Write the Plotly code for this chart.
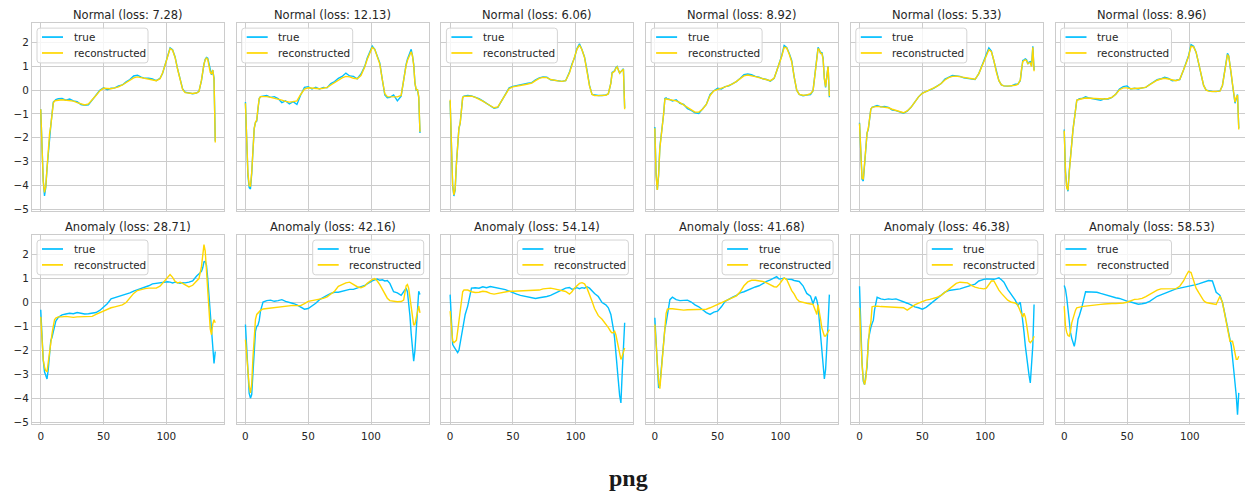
import plotly.graph_objects as go

# Sample positions (timestep index) shared by every heartbeat trace
X = [0, 1, 2, 3, 4, 5, 6, 7, 8, 9, 10, 11, 12,
     14, 17, 20, 23, 26, 29, 32, 35, 38, 41, 44, 47, 50, 53, 56, 59, 62, 65, 68, 71, 74, 77, 80, 83, 86, 89, 92, 95,
     97, 99, 101, 103, 105, 107, 109, 111, 113, 115,
     118, 121, 124, 126, 128, 129, 130, 131, 132, 133, 134, 135, 136, 137, 138, 139]

NORMAL_LOSS = [7.28, 12.13, 6.06, 8.92, 5.33, 8.96]
ANOMALY_LOSS = [28.71, 42.16, 54.14, 41.68, 46.38, 58.53]

X_TICKS = [0, 50, 100]
Y_TICKS = [2, 1, 0, -1, -2, -3, -4, -5]
SERIES_NAMES = ["true", "reconstructed"]

normal_1_true = [
    -0.80, -2.50, -3.80, -4.45, -4.10, -3.30, -2.60, -1.80, -1.50, -1.00, -0.50, -0.45, -0.40,
    -0.36, -0.35, -0.42, -0.37, -0.45, -0.48, -0.60, -0.63, -0.62, -0.40, -0.20, 0.00, 0.10, 0.02,
    0.08, 0.10, 0.18, 0.22, 0.35, 0.45, 0.60, 0.63, 0.55, 0.50, 0.50, 0.47, 0.40, 0.50,
    0.70, 1.05, 1.40, 1.78, 1.70, 1.40, 0.90, 0.45, 0.05, -0.08,
    -0.12, -0.15, -0.12, -0.05, 0.40, 0.90, 1.10, 1.30, 1.38, 1.35, 1.10, 0.75, 0.65, 0.85, 0.50, -2.15]
normal_1_recon = [
    -0.80, -2.60, -3.85, -4.30, -4.05, -3.30, -2.55, -1.85, -1.50, -1.00, -0.55, -0.45, -0.43,
    -0.42, -0.40, -0.42, -0.43, -0.46, -0.52, -0.58, -0.62, -0.58, -0.42, -0.22, -0.03, 0.08, 0.07,
    0.06, 0.10, 0.14, 0.22, 0.33, 0.43, 0.52, 0.56, 0.53, 0.49, 0.46, 0.43, 0.40, 0.48,
    0.72, 1.05, 1.42, 1.75, 1.68, 1.38, 0.88, 0.42, 0.03, -0.10,
    -0.13, -0.14, -0.12, -0.06, 0.42, 0.88, 1.10, 1.28, 1.35, 1.30, 1.08, 0.75, 0.68, 0.85, 0.45, -2.20]

normal_2_true = [
    -0.50, -2.30, -3.60, -4.10, -4.15, -3.50, -2.50, -1.60, -1.35, -1.30, -0.80, -0.35, -0.27,
    -0.25, -0.22, -0.30, -0.27, -0.35, -0.52, -0.45, -0.58, -0.48, -0.60, -0.20, 0.12, 0.15, 0.05,
    0.12, 0.05, 0.12, 0.10, 0.28, 0.36, 0.50, 0.58, 0.72, 0.60, 0.58, 0.48, 0.68, 1.00,
    1.35, 1.62, 1.85, 1.72, 1.45, 1.15, 0.45, -0.20, -0.32, -0.30,
    -0.20, -0.45, -0.25, 0.50, 1.10, 1.30, 1.45, 1.60, 1.72, 1.45, 1.10, 0.30, 0.00, 0.02, -0.30, -1.80]
normal_2_recon = [
    -0.55, -2.30, -3.50, -4.00, -4.05, -3.45, -2.45, -1.60, -1.35, -1.25, -0.75, -0.35, -0.27,
    -0.26, -0.27, -0.30, -0.33, -0.36, -0.42, -0.47, -0.50, -0.48, -0.45, -0.18, 0.05, 0.10, 0.08,
    0.07, 0.06, 0.08, 0.12, 0.22, 0.33, 0.42, 0.52, 0.58, 0.56, 0.50, 0.48, 0.62, 0.98,
    1.30, 1.58, 1.80, 1.72, 1.45, 1.10, 0.45, -0.15, -0.27, -0.28,
    -0.28, -0.28, -0.22, 0.45, 1.05, 1.25, 1.40, 1.52, 1.62, 1.45, 1.05, 0.30, 0.02, 0.02, -0.25, -1.75]

normal_3_true = [
    -0.45, -2.60, -4.00, -4.45, -4.20, -3.10, -2.20, -1.60, -1.40, -0.90, -0.30, -0.25, -0.24,
    -0.22, -0.24, -0.28, -0.35, -0.45, -0.55, -0.65, -0.76, -0.72, -0.45, -0.15, 0.10, 0.16, 0.20,
    0.24, 0.25, 0.30, 0.32, 0.44, 0.52, 0.56, 0.55, 0.44, 0.42, 0.40, 0.37, 0.40, 0.75,
    1.10, 1.35, 1.75, 1.95, 1.70, 1.40, 0.85, 0.20, -0.18, -0.20,
    -0.22, -0.22, -0.20, -0.15, 0.30, 0.75, 0.80, 0.82, 0.95, 1.00, 0.85, 0.72, 0.78, 0.85, 0.90, -0.75]
normal_3_recon = [
    -0.40, -2.60, -4.00, -4.40, -4.15, -3.10, -2.20, -1.60, -1.38, -0.90, -0.30, -0.26, -0.26,
    -0.26, -0.25, -0.30, -0.37, -0.46, -0.56, -0.66, -0.74, -0.70, -0.45, -0.15, 0.07, 0.14, 0.18,
    0.20, 0.23, 0.26, 0.30, 0.40, 0.50, 0.54, 0.53, 0.45, 0.41, 0.39, 0.37, 0.40, 0.72,
    1.06, 1.33, 1.72, 1.90, 1.70, 1.38, 0.82, 0.18, -0.18, -0.22,
    -0.23, -0.23, -0.21, -0.15, 0.30, 0.72, 0.78, 0.80, 0.92, 0.98, 0.85, 0.72, 0.78, 0.85, 0.88, -0.80]

normal_4_true = [
    -1.55, -3.50, -4.20, -3.60, -2.40, -2.00, -1.60, -1.00, -0.35, -0.32, -0.38, -0.37, -0.40,
    -0.45, -0.40, -0.55, -0.60, -0.78, -0.85, -0.95, -0.98, -0.80, -0.60, -0.18, -0.02, 0.08, 0.05,
    0.15, 0.18, 0.28, 0.36, 0.50, 0.65, 0.68, 0.65, 0.58, 0.55, 0.48, 0.45, 0.38, 0.50,
    0.80, 1.10, 1.45, 1.88, 1.80, 1.55, 1.25, 0.55, 0.00, -0.18,
    -0.23, -0.20, -0.18, -0.02, 0.90, 1.50, 1.80, 1.70, 1.55, 1.60, 1.35, 0.50, 0.12, 0.60, 1.00, -0.30]
normal_4_recon = [
    -1.60, -3.60, -4.20, -3.55, -2.45, -2.00, -1.60, -1.00, -0.38, -0.36, -0.38, -0.39, -0.40,
    -0.42, -0.45, -0.52, -0.62, -0.74, -0.85, -0.92, -0.92, -0.80, -0.60, -0.22, -0.03, 0.04, 0.09,
    0.14, 0.20, 0.27, 0.37, 0.48, 0.60, 0.64, 0.62, 0.57, 0.53, 0.48, 0.44, 0.40, 0.50,
    0.78, 1.10, 1.42, 1.80, 1.78, 1.52, 1.20, 0.55, 0.00, -0.18,
    -0.21, -0.20, -0.15, -0.02, 0.85, 1.45, 1.75, 1.70, 1.55, 1.55, 1.30, 0.50, 0.15, 0.60, 1.00, -0.25]

normal_5_true = [
    -1.37, -2.90, -3.75, -3.82, -3.10, -2.55, -1.80, -1.65, -1.30, -0.80, -0.72, -0.70, -0.68,
    -0.64, -0.70, -0.68, -0.72, -0.84, -0.86, -0.90, -0.97, -0.88, -0.72, -0.50, -0.28, -0.12, -0.06,
    0.00, 0.08, 0.18, 0.28, 0.47, 0.55, 0.62, 0.60, 0.58, 0.52, 0.50, 0.47, 0.45, 0.70,
    0.95, 1.20, 1.45, 1.78, 1.65, 1.25, 0.75, 0.40, 0.22, 0.18,
    0.17, 0.18, 0.25, 0.25, 0.40, 0.90, 1.25, 1.28, 1.32, 1.28, 1.10, 1.18, 1.20, 1.02, 1.85, 0.85]
normal_5_recon = [
    -1.40, -2.95, -3.70, -3.75, -3.10, -2.50, -1.80, -1.60, -1.25, -0.80, -0.72, -0.71, -0.70,
    -0.68, -0.70, -0.71, -0.74, -0.80, -0.86, -0.91, -0.95, -0.87, -0.72, -0.50, -0.28, -0.13, -0.06,
    0.00, 0.08, 0.17, 0.28, 0.43, 0.53, 0.58, 0.59, 0.56, 0.52, 0.49, 0.46, 0.46, 0.70,
    0.94, 1.18, 1.43, 1.70, 1.62, 1.25, 0.75, 0.40, 0.22, 0.18,
    0.17, 0.18, 0.21, 0.24, 0.42, 0.88, 1.20, 1.25, 1.28, 1.25, 1.12, 1.15, 1.15, 1.00, 1.80, 0.80]

normal_6_true = [
    -1.65, -3.40, -4.05, -4.25, -3.40, -2.70, -2.10, -1.65, -1.25, -0.80, -0.42, -0.40, -0.36,
    -0.35, -0.28, -0.33, -0.36, -0.38, -0.42, -0.36, -0.37, -0.30, -0.17, 0.05, 0.15, 0.18, 0.05,
    0.08, 0.05, 0.10, 0.12, 0.24, 0.35, 0.44, 0.48, 0.55, 0.50, 0.40, 0.42, 0.45, 0.85,
    1.15, 1.45, 1.92, 1.85, 1.60, 1.15, 0.60, 0.20, 0.00, -0.03,
    -0.05, -0.06, -0.03, 0.20, 0.90, 1.30, 1.55, 1.45, 1.10, 0.70, 0.25, -0.15, -0.55, -0.30, -0.18, -1.60]
normal_6_recon = [
    -1.70, -3.45, -4.10, -4.20, -3.45, -2.70, -2.10, -1.65, -1.25, -0.80, -0.42, -0.40, -0.38,
    -0.36, -0.33, -0.34, -0.35, -0.36, -0.38, -0.37, -0.35, -0.30, -0.17, 0.02, 0.10, 0.10, 0.06,
    0.06, 0.07, 0.09, 0.13, 0.22, 0.34, 0.42, 0.47, 0.50, 0.47, 0.42, 0.40, 0.45, 0.82,
    1.12, 1.42, 1.85, 1.82, 1.60, 1.15, 0.60, 0.20, 0.00, -0.04,
    -0.06, -0.06, -0.04, 0.20, 0.88, 1.28, 1.50, 1.42, 1.10, 0.70, 0.25, -0.15, -0.50, -0.30, -0.20, -1.65]

anomaly_1_true = [
    -0.30, -1.50, -2.40, -2.90, -3.10, -3.20, -2.80, -2.25, -1.60, -1.45, -1.25, -0.95, -0.78,
    -0.62, -0.52, -0.48, -0.45, -0.47, -0.42, -0.45, -0.48, -0.47, -0.45, -0.42, -0.33, -0.20, -0.05,
    0.15, 0.20, 0.25, 0.28, 0.33, 0.40, 0.48, 0.53, 0.60, 0.63, 0.70, 0.78, 0.80, 0.82,
    0.85, 0.85, 0.87, 0.85, 0.82, 0.85, 0.82, 0.80, 0.83, 0.82,
    0.85, 0.90, 1.10, 1.20, 1.30, 1.45, 1.70, 1.72, 1.55, 1.00, 0.25, -0.50, -1.25, -2.10, -2.55, -2.05]
anomaly_1_recon = [
    -0.60, -1.70, -2.40, -2.70, -2.85, -2.90, -2.50, -2.00, -1.55, -1.30, -1.00, -0.72, -0.65,
    -0.60, -0.60, -0.58, -0.60, -0.62, -0.60, -0.60, -0.60, -0.60, -0.58, -0.50, -0.43, -0.35, -0.28,
    -0.22, -0.18, -0.14, -0.10, 0.00, 0.20, 0.38, 0.50, 0.55, 0.58, 0.60, 0.60, 0.60, 0.68,
    0.80, 0.95, 1.08, 1.17, 1.05, 0.88, 0.82, 0.85, 0.80, 0.75,
    0.65, 0.72, 0.88, 1.00, 1.50, 2.00, 2.42, 2.15, 1.40, 0.45, -0.35, -1.10, -1.35, -0.90, -0.72, -0.85]

anomaly_2_true = [
    -0.92, -2.00, -2.95, -3.80, -4.00, -3.85, -2.95, -1.90, -1.20, -1.00, -0.95, -0.75, -0.36,
    0.02, 0.08, 0.10, 0.05, 0.08, 0.12, 0.05, 0.02, -0.04, -0.10, -0.20, -0.28, -0.25, -0.15,
    -0.03, 0.12, 0.22, 0.30, 0.38, 0.43, 0.43, 0.47, 0.50, 0.55, 0.55, 0.60, 0.65, 0.72,
    0.78, 0.85, 0.90, 0.95, 0.98, 0.93, 0.95, 0.90, 0.92, 0.80,
    0.45, 0.40, 0.30, 0.45, 0.60, 0.45, 0.05, -0.55, -1.30, -2.00, -2.45, -2.00, -1.00, -0.10, 0.47, 0.33]
anomaly_2_recon = [
    -1.55, -2.30, -3.00, -3.50, -3.78, -3.40, -2.30, -1.40, -0.70, -0.50, -0.43, -0.38, -0.33,
    -0.27, -0.25, -0.22, -0.20, -0.20, -0.18, -0.15, -0.13, -0.12, -0.13, -0.13, -0.05, 0.05, 0.08,
    0.10, 0.12, 0.17, 0.24, 0.35, 0.47, 0.68, 0.76, 0.82, 0.85, 0.75, 0.66, 0.62, 0.68,
    0.80, 0.89, 0.96, 1.00, 0.90, 0.75, 0.55, 0.35, 0.18, 0.08,
    0.05, 0.03, 0.04, 0.10, 0.70, 0.75, 0.60, 0.20, -0.20, -0.60, -0.95, -0.90, -0.65, -0.25, -0.15, -0.43]

anomaly_3_true = [
    0.33, -0.80, -1.75, -1.85, -1.94, -2.00, -2.10, -2.00, -1.70, -1.35, -1.10, -0.90, -0.50,
    -0.15, 0.60, 0.62, 0.60, 0.66, 0.62, 0.67, 0.64, 0.60, 0.56, 0.54, 0.48, 0.40, 0.35,
    0.30, 0.26, 0.23, 0.20, 0.17, 0.20, 0.22, 0.25, 0.30, 0.38, 0.45, 0.55, 0.60, 0.63,
    0.55, 0.58, 0.62, 0.58, 0.62, 0.60, 0.66, 0.60, 0.47, 0.38,
    0.25, 0.00, -0.10, -0.22, -0.50, -0.75, -1.10, -1.50, -2.00, -2.70, -3.30, -3.90, -4.20, -3.00, -2.00, -0.85]
anomaly_3_recon = [
    -0.36, -1.00, -1.60, -1.68, -1.62, -1.58, -1.20, -0.75, -0.30, 0.20, 0.45, 0.52, 0.52,
    0.52, 0.45, 0.42, 0.43, 0.47, 0.45, 0.38, 0.35, 0.38, 0.42, 0.45, 0.47, 0.47, 0.48,
    0.50, 0.50, 0.52, 0.50, 0.52, 0.52, 0.57, 0.60, 0.60, 0.57, 0.54, 0.50, 0.46, 0.35,
    0.45, 0.60, 0.70, 0.80, 0.83, 0.78, 0.60, 0.35, 0.05, -0.25,
    -0.55, -0.70, -0.90, -1.05, -1.22, -1.27, -1.25, -1.20, -1.35, -1.60, -2.00, -2.25, -2.38, -2.25, -2.05, -1.90]

anomaly_4_true = [
    -0.64, -1.80, -2.90, -3.57, -3.45, -2.90, -2.35, -1.60, -1.10, -0.85, -0.55, -0.25, 0.12,
    0.22, 0.12, 0.08, 0.08, 0.10, 0.02, -0.10, -0.18, -0.30, -0.42, -0.50, -0.40, -0.36, -0.18,
    0.05, 0.15, 0.22, 0.30, 0.40, 0.45, 0.52, 0.60, 0.65, 0.70, 0.80, 0.88, 0.95, 1.05,
    1.08, 0.98, 1.00, 1.02, 0.98, 0.98, 0.96, 0.92, 0.90, 0.88,
    0.70, 0.38, 0.26, -0.05, 0.25, 0.10, -0.15, -0.70, -1.27, -1.90, -2.55, -3.20, -2.80, -2.00, -0.85, 0.33]
anomaly_4_recon = [
    -0.92, -1.70, -2.52, -3.30, -3.60, -2.90, -2.20, -1.50, -0.90, -0.45, -0.28, -0.26, -0.26,
    -0.26, -0.28, -0.30, -0.32, -0.30, -0.29, -0.29, -0.29, -0.29, -0.28, -0.22, -0.15, -0.06, 0.01,
    0.08, 0.13, 0.20, 0.28, 0.45, 0.70, 0.86, 0.93, 0.93, 0.92, 0.88, 0.82, 0.73, 0.66,
    0.65, 0.75, 0.90, 1.03, 0.96, 0.70, 0.50, 0.35, 0.15, 0.05,
    0.00, -0.03, -0.06, -0.08, -0.35, -0.50, -0.10, -0.35, -0.70, -1.06, -1.25, -1.40, -1.40, -1.30, -1.20, -1.13]

anomaly_5_true = [
    0.68, -1.00, -2.50, -3.30, -3.43, -3.05, -2.70, -1.55, -1.25, -1.05, -0.88, -0.75, -0.30,
    0.22, 0.15, 0.12, 0.15, 0.13, 0.15, 0.10, 0.03, -0.03, -0.10, -0.18, -0.22, -0.28, -0.20,
    -0.07, 0.03, 0.18, 0.30, 0.43, 0.50, 0.52, 0.54, 0.57, 0.62, 0.67, 0.72, 0.77, 0.90,
    0.95, 0.97, 0.99, 0.98, 1.00, 0.97, 1.00, 1.03, 0.95, 0.85,
    0.55, 0.33, 0.10, -0.12, 0.01, -0.35, -0.75, -1.25, -1.80, -2.30, -2.75, -3.05, -3.36, -2.60, -1.80, -0.08]
anomaly_5_recon = [
    -0.22, -1.80, -2.60, -3.22, -3.43, -3.20, -2.45, -1.41, -1.05, -0.85, -0.18, -0.16, -0.15,
    -0.15, -0.17, -0.18, -0.18, -0.18, -0.18, -0.20, -0.22, -0.32, -0.20, -0.10, -0.03, 0.05, 0.10,
    0.13, 0.17, 0.22, 0.30, 0.42, 0.56, 0.67, 0.80, 0.85, 0.85, 0.82, 0.72, 0.64, 0.60,
    0.58, 0.57, 0.60, 0.78, 0.90, 0.90, 0.68, 0.52, 0.38, 0.25,
    0.10, 0.01, -0.02, -0.10, -0.35, -0.55, -0.62, -0.45, -0.60, -0.90, -1.30, -1.62, -1.68, -1.62, -1.55, -1.41]

anomaly_6_true = [
    0.71, 0.55, 0.20, -0.40, -0.95, -1.25, -1.50, -1.69, -1.83, -1.55, -1.05, -0.70, -0.55,
    -0.20, 0.45, 0.45, 0.43, 0.43, 0.38, 0.33, 0.28, 0.25, 0.20, 0.17, 0.10, 0.06, 0.02,
    -0.02, -0.07, -0.05, -0.02, 0.05, 0.15, 0.26, 0.32, 0.38, 0.47, 0.53, 0.57, 0.60, 0.63,
    0.65, 0.67, 0.68, 0.72, 0.75, 0.78, 0.82, 0.85, 0.88, 0.92,
    0.90, 0.43, 0.30, 0.00, -0.50, -0.75, -0.99, -1.20, -1.45, -1.80, -2.30, -2.80, -3.30, -3.90, -4.69, -3.78]
anomaly_6_recon = [
    -0.15, -1.00, -1.25, -1.38, -1.41, -1.20, -0.85, -0.65, -0.50, -0.32, -0.22, -0.20, -0.18,
    -0.17, -0.15, -0.14, -0.13, -0.10, -0.08, -0.06, -0.04, -0.04, -0.04, -0.04, -0.02, 0.01, 0.08,
    0.13, 0.14, 0.17, 0.25, 0.35, 0.45, 0.52, 0.57, 0.57, 0.57, 0.55, 0.58, 0.68, 0.90,
    1.12, 1.30, 1.25, 0.95, 0.60, 0.42, 0.25, 0.08, 0.00, -0.03,
    -0.05, -0.08, 0.26, 0.00, -0.55, -0.75, -1.06, -1.35, -1.62, -1.62, -1.62, -1.85, -2.20, -2.38, -2.38, -2.25]

TRUE_COLOR = "#00bfff"
RECON_COLOR = "#ffd700"
GRID_COLOR = "#cccccc"
TEXT_COLOR = "#262626"
FONT = "DejaVu Sans"
LINE_W = 1.4

# (title, true series, reconstructed series, legend corner)
panels = [
    (f"Normal (loss: {NORMAL_LOSS[0]:.2f})", normal_1_true, normal_1_recon, "left"),
    (f"Normal (loss: {NORMAL_LOSS[1]:.2f})", normal_2_true, normal_2_recon, "left"),
    (f"Normal (loss: {NORMAL_LOSS[2]:.2f})", normal_3_true, normal_3_recon, "left"),
    (f"Normal (loss: {NORMAL_LOSS[3]:.2f})", normal_4_true, normal_4_recon, "left"),
    (f"Normal (loss: {NORMAL_LOSS[4]:.2f})", normal_5_true, normal_5_recon, "left"),
    (f"Normal (loss: {NORMAL_LOSS[5]:.2f})", normal_6_true, normal_6_recon, "left"),
    (f"Anomaly (loss: {ANOMALY_LOSS[0]:.2f})", anomaly_1_true, anomaly_1_recon, "left"),
    (f"Anomaly (loss: {ANOMALY_LOSS[1]:.2f})", anomaly_2_true, anomaly_2_recon, "right"),
    (f"Anomaly (loss: {ANOMALY_LOSS[2]:.2f})", anomaly_3_true, anomaly_3_recon, "right"),
    (f"Anomaly (loss: {ANOMALY_LOSS[3]:.2f})", anomaly_4_true, anomaly_4_recon, "right"),
    (f"Anomaly (loss: {ANOMALY_LOSS[4]:.2f})", anomaly_5_true, anomaly_5_recon, "right"),
    (f"Anomaly (loss: {ANOMALY_LOSS[5]:.2f})", anomaly_6_true, anomaly_6_recon, "left"),
]
for name, t, rc, _ in panels:
    if len(t) != len(X) or len(rc) != len(X):
        raise ValueError(f"length mismatch in {name}: {len(t)}, {len(rc)}")

W, H = 1245, 497
COL_LEFT = [32.0, 236.7, 441.4, 646.1, 850.8, 1055.5]
PANEL_W = 192.0
ROW_TB = [(23.3, 212.5), (236.5, 426.8)]
X_RANGE = [-6.95, 145.95]
Y_RANGE = [-5.09, 2.82]
px_per_unit = PANEL_W / (X_RANGE[1] - X_RANGE[0])

# legend box geometry, in pixels
LEG_W, LEG_H, LEG_PAD, LEG_R = 111.0, 35.0, 5.0, 3.0
LEG_ROWS = [9.0, 25.0]
LEG_LINE = (5.0, 26.0)
LEG_TEXT_X = 34.5


def px(xp):
    return xp / W


def py(yp):
    return 1 - yp / H


def rounded_box(x0, y0, x1, y1, r):
    rx, ry = r / W, r / H
    a0, a1, b0, b1 = px(x0), px(x1), py(y0), py(y1)
    return (f"M{a0 + rx},{b0} L{a1 - rx},{b0} Q{a1},{b0} {a1},{b0 - ry} "
            f"L{a1},{b1 + ry} Q{a1},{b1} {a1 - rx},{b1} "
            f"L{a0 + rx},{b1} Q{a0},{b1} {a0},{b1 + ry} "
            f"L{a0},{b0 - ry} Q{a0},{b0} {a0 + rx},{b0} Z")


fig = go.Figure()
annotations = []
shapes = []
layout_axes = {}

for i, (title, y_true, y_recon, corner) in enumerate(panels):
    r, c = divmod(i, 6)
    k = i + 1
    sfx = "" if k == 1 else str(k)
    left = COL_LEFT[c]
    right = min(left + PANEL_W, W)
    top, bottom = ROW_TB[r]

    for series, name, color in ((y_true, SERIES_NAMES[0], TRUE_COLOR),
                                (y_recon, SERIES_NAMES[1], RECON_COLOR)):
        fig.add_trace(go.Scatter(
            x=X, y=series, name=name, mode="lines",
            line=dict(color=color, width=LINE_W),
            xaxis="x" + sfx, yaxis="y" + sfx, showlegend=False))

    x_hi = X_RANGE[0] + (right - left) / px_per_unit
    layout_axes["xaxis" + sfx] = dict(
        domain=[left / W, right / W], range=[X_RANGE[0], x_hi], anchor="y" + sfx,
        tickmode="array", tickvals=X_TICKS, showticklabels=(r == 1),
        ticklabelstandoff=2,
        showgrid=True, gridcolor=GRID_COLOR, gridwidth=1, zeroline=False,
        showline=True, linecolor=GRID_COLOR, linewidth=1.2, mirror=True, ticks="",
        tickfont=dict(family=FONT, size=10.4, color=TEXT_COLOR), fixedrange=True)
    layout_axes["yaxis" + sfx] = dict(
        domain=[1 - bottom / H, 1 - top / H], range=Y_RANGE, anchor="x" + sfx,
        tickmode="array", tickvals=Y_TICKS, showticklabels=(c == 0),
        showgrid=True, gridcolor=GRID_COLOR, gridwidth=1, zeroline=False,
        showline=True, linecolor=GRID_COLOR, linewidth=1.2, mirror=(c != 5), ticks="",
        tickfont=dict(family=FONT, size=10.4, color=TEXT_COLOR), fixedrange=True)

    # per-panel legend box
    bx0 = left + LEG_PAD if corner == "left" else right - LEG_PAD - LEG_W
    by0 = top + LEG_PAD
    shapes.append(dict(
        type="path", xref="paper", yref="paper",
        path=rounded_box(bx0, by0, bx0 + LEG_W, by0 + LEG_H, LEG_R),
        fillcolor="rgba(255,255,255,0.8)", line=dict(color="#d4d4d4", width=1),
        layer="above"))
    for row_y, name, color in zip(LEG_ROWS, SERIES_NAMES, (TRUE_COLOR, RECON_COLOR)):
        shapes.append(dict(
            type="line", xref="paper", yref="paper",
            x0=px(bx0 + LEG_LINE[0]), x1=px(bx0 + LEG_LINE[1]),
            y0=py(by0 + row_y), y1=py(by0 + row_y),
            line=dict(color=color, width=LINE_W + 0.3), layer="above"))
        annotations.append(dict(
            text=name, x=px(bx0 + LEG_TEXT_X), y=py(by0 + row_y),
            xref="paper", yref="paper", xanchor="left", yanchor="middle",
            showarrow=False, font=dict(family=FONT, size=10.4, color=TEXT_COLOR)))

    annotations.append(dict(
        text=title, x=(left + PANEL_W / 2) / W, y=1 - top / H,
        xref="paper", yref="paper", xanchor="center", yanchor="middle",
        yshift=8, showarrow=False,
        font=dict(family=FONT, size=11.5, color=TEXT_COLOR)))

annotations.append(dict(
    text="<b>png</b>", x=628 / W, y=1 - 481 / H, xref="paper", yref="paper",
    xanchor="center", yanchor="middle", showarrow=False,
    font=dict(family="Liberation Serif, DejaVu Serif, serif", size=24, color="#1a1a1a")))

fig.update_layout(
    width=W, height=H, autosize=False,
    margin=dict(l=0, r=0, t=0, b=0),
    paper_bgcolor="white", plot_bgcolor="white",
    font=dict(family=FONT, color=TEXT_COLOR),
    showlegend=False,
    annotations=annotations,
    shapes=shapes,
    **layout_axes)

fig.write_html("out.html", config={"displayModeBar": False})
